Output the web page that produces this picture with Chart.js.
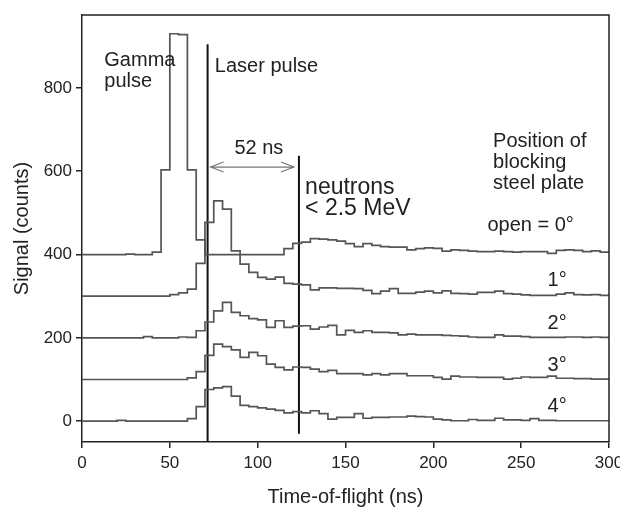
<!DOCTYPE html>
<html>
<head>
<meta charset="utf-8">
<script src="https://cdn.jsdelivr.net/npm/chart.js@4.4.1/dist/chart.umd.min.js"></script>
<style>
  html, body { margin: 0; padding: 0; background: #fff; }
</style>
</head>
<body>
<canvas id="tofChart" width="620" height="508"></canvas>
<script>
// Time-of-flight spectra for different positions of the blocking steel plate (5 ns bins)
const binEdges = [0,5,10,15,20,25,30,35,40,45,50,55,60,65,70,75,80,85,90,95,100,105,110,115,120,125,130,135,140,145,
  150,155,160,165,170,175,180,185,190,195,200,205,210,215,220,225,230,235,240,245,250,255,260,265,270,275,280,285,290,295,300];

const signal0deg = [400,400,400,400,400,401,400,400,406,603, 930,928,603,435,400,400,400,400,400,400,
  400,400,400,414,427,430,438,437,435,432, 426,419,426,422,419,418,418,411,414,416,
  415,408,411,410,408,407,407,408,407,406, 407,407,407,403,410,411,410,407,409,406];
const signal1deg = [300,300,300,300,300,300,300,300,300,300, 304,308,317,379,477,529,509,409,377,357,
  345,341,346,331,329,327,315,320,320,319, 319,318,314,306,312,318,307,307,310,312,
  308,313,307,306,305,309,309,312,306,305, 303,302,302,302,305,308,304,303,304,302];
const signal2deg = [200,200,200,200,200,200,200,203,200,200, 200,202,201,217,238,265,285,261,253,246,
  243,225,241,225,228,229,221,226,230,207, 218,213,217,213,213,212,207,209,207,207,
  207,206,205,204,202,201,201,207,204,204, 203,201,201,201,201,202,202,201,202,201];
const signal3deg = [100,100,100,100,100,100,100,100,100,100, 100,100,104,119,158,185,179,171,153,165,
  157,137,129,123,130,129,125,119,122,114, 114,114,111,114,111,114,114,109,109,109,
  105,101,108,106,106,105,105,105,101,103, 106,105,105,108,103,103,102,102,101,101];
const signal4deg = [0,0,0,0,2,0,0,0,0,0, 0,0,6,35,76,80,83,60,38,35,
  32,29,26,20,23,20,25,18,5,9, 9,18,7,9,9,10,10,12,11,10,
  5,3,1,1,4,2,2,7,3,3, 2,6,2,2,1,1,1,1,1,1];

const plateLabels = ['open = 0\u00B0', '1\u00B0', '2\u00B0', '3\u00B0', '4\u00B0'];
const xTicks = [0, 50, 100, 150, 200, 250, 300];
const yTicks = [0, 200, 400, 600, 800];

const laserPulseTime = 71.5;   // ns
const neutronCutTime = 123.5;  // ns, 52 ns after the laser pulse
const laserLineSpan = [-50, 905];
const neutronLineSpan = [-30, 637];
const arrowLevel = 610;

const FONT = '"Liberation Sans", Arial, Helvetica, sans-serif';
Chart.defaults.font.family = FONT;
Chart.defaults.color = '#222';

function stepPoints(values) {
    const pts = values.map((v, i) => ({ x: binEdges[i], y: v }));
    pts.push({ x: binEdges[values.length], y: values[values.length - 1] });
    return pts;
}

function traceDataset(label, values) {
    return {
        label: label,
        data: stepPoints(values),
        stepped: true,
        borderColor: '#555',
        borderWidth: 1.7,
        pointRadius: 0,
        fill: false
    };
}

function markerDataset(label, t, span) {
    return {
        label: label,
        data: [{ x: t, y: span[0] }, { x: t, y: span[1] }],
        borderColor: '#111',
        borderWidth: 2,
        pointRadius: 0,
        fill: false
    };
}

// text labels, placed in data units (ns, counts)
const notes = [
    { text: 'Gamma', x: 12.7, y: 852, size: 20 },
    { text: 'pulse', x: 12.7, y: 802, size: 20 },
    { text: 'Laser pulse', x: 75.6, y: 838, size: 20 },
    { text: '52 ns', x: 100.7, y: 641, size: 20, align: 'center' },
    { text: 'neutrons', x: 127, y: 545, size: 23 },
    { text: '< 2.5 MeV', x: 127, y: 494, size: 23 },
    { text: 'Position of', x: 234, y: 658, size: 20 },
    { text: 'blocking', x: 234, y: 607, size: 20 },
    { text: 'steel plate', x: 234, y: 557, size: 20 },
    { text: plateLabels[0], x: 230.8, y: 456, size: 20 },
    { text: plateLabels[1], x: 265, y: 324, size: 20 },
    { text: plateLabels[2], x: 265, y: 221, size: 20 },
    { text: plateLabels[3], x: 265, y: 120, size: 20 },
    { text: plateLabels[4], x: 265, y: 22, size: 20 }
];

const annotationPlugin = {
    id: 'annotations',
    afterDatasetsDraw(chart) {
        const { ctx, chartArea: a, scales: { x, y } } = chart;
        ctx.save();

        // frame: top and right edges
        ctx.strokeStyle = '#222';
        ctx.lineWidth = 1.5;
        ctx.beginPath();
        ctx.moveTo(a.left, a.top);
        ctx.lineTo(a.right, a.top);
        ctx.lineTo(a.right, a.bottom);
        ctx.stroke();

        // double arrow between the two markers
        const ay = y.getPixelForValue(arrowLevel);
        const x1 = x.getPixelForValue(laserPulseTime) + 3;
        const x2 = x.getPixelForValue(neutronCutTime) - 5;
        ctx.strokeStyle = '#777';
        ctx.lineWidth = 1.2;
        ctx.beginPath();
        ctx.moveTo(x1, ay); ctx.lineTo(x2, ay);
        ctx.moveTo(x1 + 13, ay - 5); ctx.lineTo(x1, ay); ctx.lineTo(x1 + 13, ay + 5);
        ctx.moveTo(x2 - 13, ay - 5); ctx.lineTo(x2, ay); ctx.lineTo(x2 - 13, ay + 5);
        ctx.stroke();

        ctx.fillStyle = '#222';
        ctx.textBaseline = 'alphabetic';
        notes.forEach(n => {
            ctx.font = `${n.size}px ${FONT}`;
            ctx.textAlign = n.align || 'left';
            ctx.fillText(n.text, x.getPixelForValue(n.x), y.getPixelForValue(n.y));
        });
        ctx.restore();
    }
};

new Chart(document.getElementById('tofChart'), {
    type: 'line',
    data: {
        datasets: [
            traceDataset(plateLabels[0], signal0deg),
            traceDataset(plateLabels[1], signal1deg),
            traceDataset(plateLabels[2], signal2deg),
            traceDataset(plateLabels[3], signal3deg),
            traceDataset(plateLabels[4], signal4deg),
            markerDataset('Laser pulse', laserPulseTime, laserLineSpan),
            markerDataset('neutrons < 2.5 MeV', neutronCutTime, neutronLineSpan)
        ]
    },
    options: {
        responsive: false,
        animation: false,
        layout: { padding: { top: 15, right: 11, left: 0, bottom: 0 } },
        plugins: {
            legend: { display: false },
            tooltip: { enabled: false }
        },
        scales: {
            x: {
                type: 'linear',
                min: 0,
                max: 300,
                afterBuildTicks: axis => { axis.ticks = xTicks.map(v => ({ value: v })); },
                afterFit: axis => { axis.height = 66; axis.paddingLeft = 0; axis.paddingRight = 0; },
                grid: { drawOnChartArea: false, tickLength: 6, color: '#222', lineWidth: 1.5 },
                border: { color: '#222', width: 1.5 },
                ticks: { font: { size: 17 }, padding: 5, maxRotation: 0, color: '#222' },
                title: { display: true, text: 'Time-of-flight (ns)', font: { size: 20 }, padding: { top: 0, bottom: -1 }, color: '#222' }
            },
            y: {
                type: 'linear',
                min: -50,
                max: 975,
                afterBuildTicks: axis => { axis.ticks = yTicks.map(v => ({ value: v })); },
                afterFit: axis => { axis.width = 82; axis.paddingTop = 0; axis.paddingBottom = 0; },
                grid: { drawOnChartArea: false, tickLength: 6, color: '#222', lineWidth: 1.5 },
                border: { color: '#222', width: 1.5 },
                ticks: { font: { size: 17 }, padding: 4, color: '#222' },
                title: { display: true, text: 'Signal (counts)', font: { size: 20 }, padding: { top: 10, bottom: 0 }, color: '#222' }
            }
        }
    },
    plugins: [annotationPlugin]
});
</script>
</body>
</html>
